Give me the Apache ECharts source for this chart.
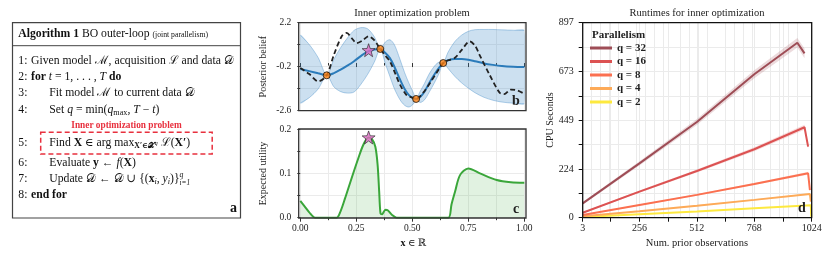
<!DOCTYPE html>
<html><head><meta charset="utf-8">
<script src="https://cdn.jsdelivr.net/npm/echarts@6/dist/echarts.min.js"></script>
<style>html,body{margin:0;padding:0;background:#fff}#c{width:830px;height:257px}</style>
</head><body><div id="c"></div>
<script>
// ---------------- data ----------------
// panel b: posterior
const postX    = [0, 0.04, 0.08, 0.118, 0.15, 0.18, 0.21, 0.24, 0.27, 0.30, 0.33, 0.357, 0.38, 0.40, 0.42, 0.445, 0.465, 0.485, 0.505, 0.517, 0.535, 0.555, 0.575, 0.60, 0.62, 0.638, 0.66, 0.69, 0.72, 0.75, 0.78, 0.82, 0.86, 0.90, 0.95, 1.0];
const postMean = [-0.33, -0.44, -0.56, -0.67, -0.55, -0.36, -0.14, 0.10, 0.38, 0.62, 0.74, 0.77, 0.55, 0.27, -0.2, -0.9, -1.4, -1.75, -1.93, -1.96, -1.85, -1.55, -1.1, -0.6, -0.25, 0.0, 0.15, 0.22, 0.22, 0.18, 0.1, -0.02, -0.1, -0.16, -0.2, -0.22];
const postHalf = [1.85, 1.45, 0.85, 0.0, 0.75, 1.2, 1.5, 1.68, 1.55, 1.25, 0.7, 0.0, 0.6, 1.0, 1.2, 1.1, 0.9, 0.65, 0.3, 0.0, 0.3, 0.45, 0.5, 0.45, 0.3, 0.0, 0.45, 0.95, 1.3, 1.55, 1.72, 1.85, 1.93, 1.97, 1.99, 2.0];
const truthX = [0, 0.04, 0.08, 0.118, 0.15, 0.185, 0.207, 0.23, 0.252, 0.28, 0.304, 0.33, 0.357, 0.38, 0.40, 0.425, 0.445, 0.475, 0.497, 0.517, 0.55, 0.579, 0.61, 0.638, 0.66, 0.689, 0.72, 0.756, 0.78, 0.80, 0.845, 0.89, 0.91, 0.94, 0.97, 1.0];
const truthY = [-0.27, -0.6, -1.0, -0.67, 0.45, 1.46, 1.64, 1.35, 1.09, 1.25, 1.46, 1.25, 0.77, 0.4, 0.09, -0.6, -1.18, -1.76, -1.87, -1.96, -1.6, -1.09, -0.5, 0.0, 0.15, 0.27, 0.7, 1.18, 0.95, 0.45, -0.64, -1.62, -1.7, -1.45, -1.5, -1.68];
const obsX = [0.118, 0.357, 0.517, 0.638];
const obsY = [-0.67, 0.77, -1.96, 0.0];
const candX = [0.305];
const candMean = [0.70];
const candUtil = [0.181];
// panel c: expected utility
const utilX = [0, 0.02, 0.04, 0.066, 0.1, 0.162, 0.18, 0.2, 0.229, 0.259, 0.281, 0.304, 0.32, 0.335, 0.345, 0.352, 0.358, 0.365, 0.38, 0.39, 0.41, 0.43, 0.5, 0.6, 0.661, 0.675, 0.691, 0.713, 0.75, 0.802, 0.877, 0.94, 1.0];
const utilY = [0.038, 0.025, 0.012, 0.0, 0.0, 0.0, 0.015, 0.044, 0.089, 0.134, 0.164, 0.181, 0.177, 0.16, 0.12, 0.06, 0.01, 0.008, 0.018, 0.017, 0.006, 0.0, 0.0, 0.0, 0.0, 0.03, 0.059, 0.096, 0.111, 0.1, 0.085, 0.08, 0.079];
// panel d: runtimes
const runtimeNames = ['q = 32', 'q = 16', 'q = 8', 'q = 4', 'q = 2'];
const runtimeX32 = [3, 256, 512, 768, 960, 992];
const runtime32  = [66, 250, 440, 660, 805, 756];
const runtimeSd32 = [6, 10, 14, 18, 22, 22];
const runtimeX16 = [3, 256, 512, 768, 992, 1008];
const runtime16  = [23, 120, 215, 315, 416, 327];
const runtimeSd16 = [3, 5, 7, 9, 11, 11];
const runtimeX8 = [3, 256, 512, 768, 1008, 1016];
const runtime8  = [12, 58, 105, 155, 204, 127];
const runtimeSd8 = [2, 3, 4, 5, 7, 7];
const runtimeX4 = [3, 256, 512, 768, 1016, 1020];
const runtime4  = [7, 30, 55, 82, 109, 74];
const runtimeSd4 = [1, 2, 2, 3, 3, 3];
const runtimeX2 = [3, 256, 512, 768, 1020, 1022];
const runtime2  = [3, 16, 29, 43, 57, 4];
const runtimeSd2 = [1, 1, 1, 1, 1, 1];
const runtimeXTicks = [3, 256, 512, 768, 1024];
const runtimeXMinor = [3, 128, 256, 384, 512, 640, 768, 896, 1024];

// ---------------- helpers ----------------
const SERIF = '"Liberation Serif", "DejaVu Serif", serif';
const zip = (xs, ys) => xs.map((x, i) => [x, ys[i]]);
const ctx = document.createElement('canvas').getContext('2d');
function fontStr(o, size) { return (o.i ? 'italic ' : '') + (o.b ? 'bold ' : '') + size + 'px ' + SERIF; }
function textLine(x, y, segs, base) {
  const els = []; let cx = x;
  for (const s of segs) {
    const size = base * (s.s || 1);
    const f = fontStr(s, size);
    ctx.font = f;
    const w = ctx.measureText(s.t).width;
    els.push({ type: 'text', x: cx, y: y + (s.dy || 0), z: 50,
      style: { text: s.t, font: f, fill: s.c || '#111', verticalAlign: 'middle', align: 'left' } });
    if (!s.stay) cx += w;
  }
  return els;
}
const STAR = 'path://M0,-10L2.35,-3.24L9.51,-3.09L3.8,1.24L5.88,8.09L0,4L-5.88,8.09L-3.8,1.24L-9.51,-3.09L-2.35,-3.24Z';
function bandSeries(xIdx, yIdx, xs, lo, hi, fill, smooth, edge) {
  return {
    type: 'custom', xAxisIndex: xIdx, yAxisIndex: yIdx, clip: true, z: 2, silent: true,
    data: zip(xs, lo),
    renderItem: function (params, api) {
      if (params.dataIndex !== 0) return null;
      const up = xs.map((x, i) => api.coord([x, hi[i]]));
      const dn = xs.map((x, i) => api.coord([x, lo[i]]));
      const children = [{ type: 'polygon', shape: { points: up.concat(dn.slice().reverse()), smooth: smooth }, style: { fill: fill, stroke: 'none' } }];
      if (edge) {
        children.push({ type: 'polyline', shape: { points: up, smooth: smooth }, style: { stroke: edge, lineWidth: 0.9, fill: 'none' } });
        children.push({ type: 'polyline', shape: { points: dn, smooth: smooth }, style: { stroke: edge, lineWidth: 0.9, fill: 'none' } });
      }
      return { type: 'group', children: children };
    }
  };
}

// ---------------- panel a (algorithm) ----------------
const A = 11.7;
const numX = 18.3, t1X = 31, t2X = 49.3;
const ga = [];
ga.push({ type: 'rect', z: 40, shape: { x: 12.5, y: 22.7, width: 228, height: 195.3 }, style: { fill: 'none', stroke: '#444', lineWidth: 1.2 } });
ga.push({ type: 'line', z: 40, shape: { x1: 12.5, y1: 45.7, x2: 240.5, y2: 45.7 }, style: { stroke: '#444', lineWidth: 1 } });
ga.push(...textLine(18.3, 34.3, [{ t: 'Algorithm 1', b: 1 }, { t: ' BO outer-loop ' }, { t: '(joint parallelism)', s: 0.66, dy: 0.8 }], A));
const lines = [
  [61, '1:', t1X, [{ t: 'Given model ' }, { t: 'ℳ' }, { t: ', acquisition ' }, { t: 'ℒ' }, { t: ' and data ' }, { t: '𝒟' }]],
  [77, '2:', t1X, [{ t: 'for', b: 1 }, { t: ' ' }, { t: 't', i: 1 }, { t: ' = 1, . . . , ' }, { t: 'T', i: 1 }, { t: ' ' }, { t: 'do', b: 1 }]],
  [93, '3:', t2X, [{ t: 'Fit model ' }, { t: 'ℳ' }, { t: ' to current data ' }, { t: '𝒟' }]],
  [110, '4:', t2X, [{ t: 'Set ' }, { t: 'q', i: 1 }, { t: ' = min(' }, { t: 'q', i: 1 }, { t: 'max', s: 0.7, dy: 2.5 }, { t: ', ' }, { t: 'T', i: 1 }, { t: ' − ' }, { t: 't', i: 1 }, { t: ')' }]],
  [143, '5:', t2X, [{ t: 'Find ' }, { t: 'X', b: 1 }, { t: ' ∈ arg max' }, { t: 'X′∈𝒳', b: 1, s: 0.66, dy: 3 }, { t: 'q', i: 1, s: 0.5, dy: 0 }, { t: ' ' }, { t: 'ℒ' }, { t: '(' }, { t: 'X′', b: 1 }, { t: ')' }]],
  [163, '6:', t2X, [{ t: 'Evaluate ' }, { t: 'y', b: 1 }, { t: ' ← ' }, { t: 'f', i: 1 }, { t: '(' }, { t: 'X', b: 1 }, { t: ')' }]],
  [179, '7:', t2X, [{ t: 'Update ' }, { t: '𝒟' }, { t: ' ← ' }, { t: '𝒟' }, { t: ' ∪ {(' }, { t: 'x', b: 1 }, { t: 'i', i: 1, s: 0.7, dy: 2.5 }, { t: ', ' }, { t: 'y', i: 1 }, { t: 'i', i: 1, s: 0.7, dy: 2.5 }, { t: ')}' }, { t: 'q', i: 1, s: 0.66, dy: -4, stay: 1 }, { t: 'i=1', i: 1, s: 0.62, dy: 4 }]],
  [195, '8:', t1X, [{ t: 'end for', b: 1 }]]
];
for (const [y, n, x, segs] of lines) {
  ga.push(...textLine(numX, y, [{ t: n }], A));
  ga.push(...textLine(x, y, segs, A));
}
ga.push({ type: 'text', x: 126.5, y: 126, z: 50, style: { text: 'Inner optimization problem', font: 'bold 9.3px ' + SERIF, fill: '#e8303e', align: 'center', verticalAlign: 'middle' } });
ga.push({ type: 'rect', z: 40, shape: { x: 40.7, y: 132.3, width: 171.5, height: 21.7 }, style: { fill: 'none', stroke: '#e8303e', lineWidth: 1.5, lineDash: [5, 3] } });
ga.push({ type: 'text', x: 237, y: 208, z: 50, style: { text: 'a', font: 'bold 14px ' + SERIF, fill: '#111', align: 'right', verticalAlign: 'middle' } });

// ---------------- frames, titles, names ----------------
const g = [];
g.push({ type: 'rect', z: 100, silent: true, shape: { x: 298.7, y: 22.7, width: 227.3, height: 88 }, style: { fill: 'none', stroke: '#333', lineWidth: 1.3 } });
g.push({ type: 'rect', z: 100, silent: true, shape: { x: 298.7, y: 129, width: 227.3, height: 89 }, style: { fill: 'none', stroke: '#333', lineWidth: 1.3 } });
g.push({ type: 'rect', z: 100, silent: true, shape: { x: 582.7, y: 22.7, width: 229, height: 195 }, style: { fill: 'none', stroke: '#111', lineWidth: 1.3 } });
const T = (x, y, text, font, extra) => Object.assign({ type: 'text', x, y, z: 60, style: { text, font, fill: '#222', align: 'center', verticalAlign: 'middle' } }, extra || {});
g.push(T(412, 13, 'Inner optimization problem', '10.5px ' + SERIF));
g.push(T(697, 13, 'Runtimes for inner optimization', '10.5px ' + SERIF));
g.push(T(263.5, 66.7, 'Posterior belief', '10px ' + SERIF, { rotation: Math.PI / 2 }));
g.push(T(263.5, 173.5, 'Expected utility', '10px ' + SERIF, { rotation: Math.PI / 2 }));
g.push(T(550, 120, 'CPU Seconds', '10px ' + SERIF, { rotation: Math.PI / 2 }));
g.push(T(697, 243, 'Num. prior observations', '10.5px ' + SERIF));
g.push(...textLine(400.5, 243, [{ t: 'x', b: 1 }, { t: ' ∈ ℝ' }], 10));
g.push(T(516, 101, 'b', 'bold 14px ' + SERIF));
g.push(T(516, 209, 'c', 'bold 14px ' + SERIF));
g.push(T(802, 208, 'd', 'bold 14px ' + SERIF));
g.push({ type: 'text', x: 592, y: 35, z: 60, style: { text: 'Parallelism', font: 'bold 11px ' + SERIF, fill: '#222', align: 'left', verticalAlign: 'middle' } });

// ---------------- axes ----------------
const GRID = '#ebebeb';
const lbl = (fmt, margin) => ({ fontFamily: SERIF, fontSize: 9.5, color: '#222', margin, formatter: fmt });
const commonX = { type: 'value', axisLine: { show: false }, splitLine: { show: true, lineStyle: { color: GRID } },
  minorSplitLine: { show: true, lineStyle: { color: GRID } } };

const xAxis = [
  Object.assign({}, commonX, { gridIndex: 0, min: 0, max: 1, interval: 0.25, axisLabel: { show: false },
    axisTick: { show: true, length: 4, lineStyle: { color: '#333' } }, minorTick: { show: true, splitNumber: 2, length: 2.5, lineStyle: { color: '#333' } } }),
  Object.assign({}, commonX, { gridIndex: 1, min: 0, max: 1, interval: 0.25, axisLabel: lbl(v => v.toFixed(2), 6),
    axisTick: { show: true, length: 4, lineStyle: { color: '#333' } }, minorTick: { show: true, splitNumber: 2, length: 2.5, lineStyle: { color: '#333' } } }),
  Object.assign({}, commonX, { gridIndex: 2, min: 3, max: 1024,
    axisLabel: Object.assign(lbl(v => String(v), 6), { customValues: runtimeXTicks, fontSize: 10 }),
    axisTick: { show: true, length: 4, customValues: runtimeXMinor, lineStyle: { color: '#111' } } })
];
const yAxis = [
  { type: 'value', gridIndex: 0, min: -2.6, max: 2.2, interval: 1.2, axisLine: { show: false },
    axisLabel: lbl(v => { const r = Math.round(v * 10) / 10; return (r === 2.2 || r === -0.2 || r === -2.6) ? r.toFixed(1) : ''; }, 9),
    axisTick: { show: true, length: 3, lineStyle: { color: '#333' } }, splitLine: { show: true, lineStyle: { color: GRID } } },
  { type: 'value', gridIndex: 1, min: 0, max: 0.2, interval: 0.1, axisLine: { show: false },
    axisLabel: lbl(v => v.toFixed(1), 9),
    axisTick: { show: true, length: 3, lineStyle: { color: '#333' } }, minorTick: { show: true, splitNumber: 2, length: 3, lineStyle: { color: '#333' } },
    splitLine: { show: true, lineStyle: { color: GRID } }, minorSplitLine: { show: true, lineStyle: { color: GRID } } },
  { type: 'value', gridIndex: 2, min: 0, max: 897, interval: 224.25, axisLine: { show: false },
    axisLabel: Object.assign(lbl(v => String(Math.round(v)), 9), { fontSize: 10 }),
    axisTick: { show: true, length: 4, lineStyle: { color: '#111' } }, minorTick: { show: true, splitNumber: 2, length: 4, lineStyle: { color: '#111' } },
    splitLine: { show: true, lineStyle: { color: GRID } }, minorSplitLine: { show: true, lineStyle: { color: GRID } } }
];

// ---------------- series ----------------
const series = [];
series.push(bandSeries(0, 0, postX, postMean.map((m, i) => m - postHalf[i]), postMean.map((m, i) => m + postHalf[i]),
  'rgba(52,130,195,0.25)', 0.3, 'rgba(70,140,200,0.45)'));
series.push({ type: 'line', xAxisIndex: 0, yAxisIndex: 0, smooth: 0.3, symbol: 'none', data: zip(postX, postMean),
  lineStyle: { color: '#2b7bba', width: 2 }, z: 3 });
series.push({ type: 'line', xAxisIndex: 0, yAxisIndex: 0, smooth: 0.3, symbol: 'none', data: zip(truthX, truthY),
  lineStyle: { color: '#222', width: 1.8, type: [5, 3] }, z: 4 });
series.push({ type: 'scatter', xAxisIndex: 0, yAxisIndex: 0, data: zip(obsX, obsY), symbol: 'circle', symbolSize: 7,
  itemStyle: { color: '#ff7f0e', borderColor: '#111', borderWidth: 1 }, z: 5 });
series.push({ type: 'scatter', xAxisIndex: 0, yAxisIndex: 0, data: zip(candX, candMean), symbol: STAR, symbolSize: 13,
  itemStyle: { color: '#de6bc4', borderColor: '#222', borderWidth: 0.8 }, z: 6 });
// panel c
series.push({ type: 'line', xAxisIndex: 1, yAxisIndex: 1, smooth: 0.3, symbol: 'none', data: zip(utilX, utilY),
  lineStyle: { color: '#3aa63a', width: 2 }, areaStyle: { color: 'rgba(60,170,60,0.22)' }, z: 3 });
series.push({ type: 'scatter', xAxisIndex: 1, yAxisIndex: 1, data: zip(candX, candUtil), symbol: STAR, symbolSize: 13,
  itemStyle: { color: '#de6bc4', borderColor: '#222', borderWidth: 0.8 }, z: 6 });
// panel d
const runtimeSets = [
  [runtimeX32, runtime32, runtimeSd32, '#9e4d56', 'rgba(158,77,86,0.2)'],
  [runtimeX16, runtime16, runtimeSd16, '#dc5252', 'rgba(220,82,82,0.2)'],
  [runtimeX8, runtime8, runtimeSd8, '#fb7050', 'rgba(251,112,80,0.2)'],
  [runtimeX4, runtime4, runtimeSd4, '#fdaa58', 'rgba(253,170,88,0.2)'],
  [runtimeX2, runtime2, runtimeSd2, '#fde93f', 'rgba(253,233,63,0.2)']
];
runtimeSets.forEach(([xs, ys, sd, col, fill], k) => {
  series.push(bandSeries(2, 2, xs, ys.map((v, i) => v - sd[i]), ys.map((v, i) => v + sd[i]), fill, 0, null));
  series.push({ type: 'line', name: runtimeNames[k], xAxisIndex: 2, yAxisIndex: 2, symbol: 'none', color: col,
    data: zip(xs, ys), lineStyle: { color: col, width: 2 }, z: 4 + (5 - k) });
});

const option = {
  animation: false,
  grid: [
    { left: 300.3, top: 22.7, width: 224, height: 88 },
    { left: 300.3, top: 129, width: 224, height: 88.7 },
    { left: 582.7, top: 22.7, width: 229, height: 195 }
  ],
  xAxis, yAxis, series,
  legend: { data: runtimeNames, orient: 'vertical', left: 590, top: 42, padding: 0, itemWidth: 22, itemHeight: 3, itemGap: 1.5, icon: 'rect',
    textStyle: { fontFamily: SERIF, fontWeight: 'bold', fontSize: 11, color: '#222', lineHeight: 12 } },
  graphic: ga.concat(g)
};
const chart = echarts.init(document.getElementById('c'), null, { renderer: 'canvas' });
chart.setOption(option);
</script></body></html>
